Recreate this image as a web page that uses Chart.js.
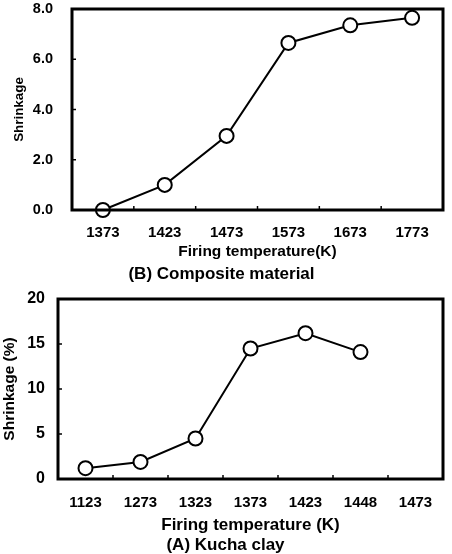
<!DOCTYPE html>
<html>
<head>
<meta charset="utf-8">
<script src="https://cdn.jsdelivr.net/npm/chart.js@4/dist/chart.umd.min.js"></script>
<style>
html,body{margin:0;padding:0;background:#fff;width:452px;height:554px;overflow:hidden;}
canvas{position:absolute;left:0;}
#c1{top:0;}
#c2{top:290px;}
</style>
</head>
<body>
<canvas id="c1" width="452" height="290"></canvas>
<canvas id="c2" width="452" height="264"></canvas>
<script>
// Panel (B) Composite material
const tempsB = ['1373','1423','1473','1573','1673','1773'];
const shrinkB = [0.0, 1.0, 2.95, 6.65, 7.35, 7.65];
// Panel (A) Kucha clay
const tempsA = ['1123','1273','1323','1373','1423','1448','1473'];
const shrinkA = [1.2, 1.9, 4.5, 14.5, 16.2, 14.1, null];

const FONT = '"Liberation Sans", Arial, sans-serif';

const boxPlugin = {
  id: 'box',
  afterDraw(chart) {
    const {ctx, chartArea: a, scales} = chart;
    ctx.save();
    ctx.strokeStyle = '#000';
    ctx.lineWidth = 3;
    ctx.strokeRect(a.left, a.top, a.right - a.left, a.bottom - a.top);
    ctx.lineWidth = 1.5;
    const x = scales.x;
    const n = x.ticks.length;
    for (let i = 0; i < n - 1; i++) {
      const px = (x.getPixelForValue(i) + x.getPixelForValue(i + 1)) / 2;
      ctx.beginPath();
      ctx.moveTo(px, a.bottom);
      ctx.lineTo(px, a.bottom - 4);
      ctx.stroke();
    }
    const y = scales.y;
    y.ticks.forEach(t => {
      const py = y.getPixelForValue(t.value);
      ctx.beginPath();
      ctx.moveTo(a.left, py);
      ctx.lineTo(a.left + 4, py);
      ctx.stroke();
    });
    ctx.restore();
  }
};

function makeChart(id, labels, data, o) {
  return new Chart(document.getElementById(id), {
    type: 'line',
    data: {
      labels: labels,
      datasets: [{
        data: data,
        borderColor: '#000',
        borderWidth: 2,
        tension: 0,
        pointRadius: 7,
        pointHoverRadius: 7,
        pointBackgroundColor: '#fff',
        pointBorderColor: '#000',
        pointBorderWidth: 2,
        spanGaps: false,
        clip: false
      }]
    },
    options: {
      responsive: false,
      animation: false,
      events: [],
      layout: {padding: {left: 0, right: o.padRight, top: o.padTop, bottom: 0}},
      plugins: {
        legend: {display: false},
        tooltip: {enabled: false},
        title: {display: true, position: 'bottom', text: o.sub, color: '#000',
          font: {family: FONT, size: o.subSize, weight: 'bold', lineHeight: 1.0},
          padding: {top: 0, bottom: o.subPadB}}
      },
      scales: {
        x: {
          offset: true,
          grid: {display: false, drawTicks: false},
          border: {display: false},
          ticks: {color: '#000', font: {family: FONT, size: o.xTickSize, weight: 'bold'}, padding: o.xTickPad, maxRotation: 0, autoSkip: false},
          title: {display: true, text: o.xTitle, color: '#000', font: {family: FONT, size: o.xTitleSize, weight: 'bold', lineHeight: 1.2}, padding: {top: 0, bottom: o.xTitlePadB}},
          afterFit(s) { s.height = o.xHeight; s.paddingLeft = 0; s.paddingRight = 0; }
        },
        y: {
          min: 0, max: o.yMax,
          grid: {display: false, drawTicks: false},
          border: {display: false},
          ticks: {stepSize: o.yStep, color: '#000', font: {family: FONT, size: o.yTickSize, weight: 'bold'}, padding: o.yTickPad,
            callback: o.yFmt},
          title: {display: true, text: o.yTitle, color: '#000', font: {family: FONT, size: o.yTitleSize, weight: 'bold', lineHeight: 1.2}, padding: {top: o.yTitlePadT, bottom: 0}},
          afterFit(s) { s.width = o.yWidth; s.paddingTop = 0; s.paddingBottom = 0; }
        }
      }
    },
    plugins: [boxPlugin]
  });
}

makeChart('c1', tempsB, shrinkB, {
  padRight: 9, padTop: 9, xHeight: 55.5, xTickPad: 13.5, xTickSize: 15,
  xTitle: 'Firing temperature(K)', xTitleSize: 15.5, xTitlePadB: 4,
  sub: '(B) Composite material', subSize: 17, subPadB: 7.5,
  yMax: 8, yStep: 2, yTickPad: 19, yTickSize: 14.5, yWidth: 72, yTitle: 'Shrinkage', yTitleSize: 13.4, yTitlePadT: 11,
  yFmt: v => v.toFixed(1)
});

makeChart('c2', tempsA, shrinkA, {
  padRight: 1, padTop: 7, xHeight: 57.5, xTickPad: 14.5, xTickSize: 15,
  xTitle: 'Firing temperature (K)', xTitleSize: 17, xTitlePadB: 1.3,
  sub: '(A) Kucha clay', subSize: 17, subPadB: 0.5,
  yMax: 20, yStep: 5, yTickPad: 13, yTickSize: 16, yWidth: 58, yTitle: 'Shrinkage (%)', yTitleSize: 15.5, yTitlePadT: 0.2,
  yFmt: v => String(v)
});
</script>
</body>
</html>
